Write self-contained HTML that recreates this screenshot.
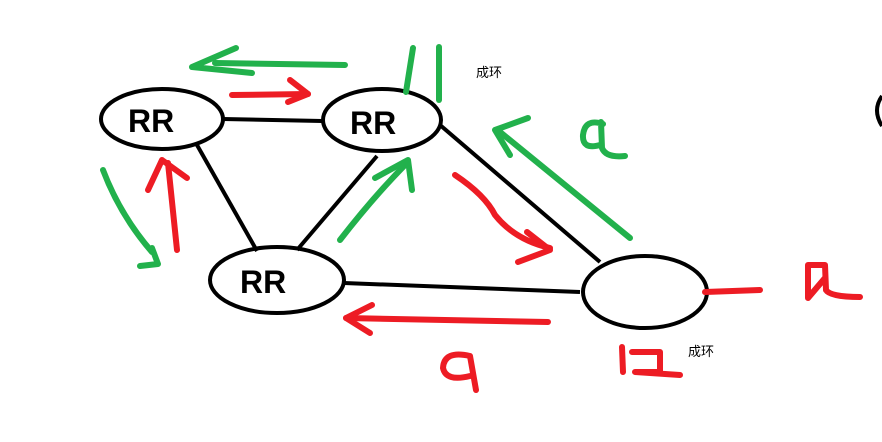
<!DOCTYPE html>
<html><head><meta charset="utf-8"><style>
html,body{margin:0;padding:0;background:#fff;width:882px;height:442px;overflow:hidden}
svg{display:block}
</style></head><body>
<svg width="882" height="442" viewBox="0 0 882 442" xmlns="http://www.w3.org/2000/svg">
<g fill="none" stroke="#000" stroke-width="4">
<ellipse cx="162" cy="119" rx="61" ry="30"/>
<ellipse cx="382" cy="120" rx="59" ry="31"/>
<ellipse cx="277" cy="280" rx="67" ry="33"/>
<ellipse cx="645" cy="292" rx="62" ry="36"/>
<path d="M882 96 Q872 110 882 126" stroke-width="4"/>
<line x1="223" y1="119" x2="322" y2="121"/>
<line x1="197" y1="145" x2="257" y2="251"/>
<line x1="377" y1="156" x2="297" y2="250"/>
<line x1="440" y1="125" x2="600" y2="262"/>
<line x1="344" y1="283" x2="580" y2="292"/>
</g>
<g font-family="Liberation Sans, sans-serif" font-weight="bold" font-size="32" fill="#000">
<text x="128" y="132">RR</text>
<text x="350" y="134">RR</text>
<text x="240" y="293">RR</text>
</g>
<g fill="none" stroke="#22b14c" stroke-width="6" stroke-linecap="round" stroke-linejoin="round">
<path d="M345 65 L215 63"/>
<path d="M236 48 L192 67 L252 73"/>
<path d="M413 48 L406 92"/>
<path d="M439 47 L439 100"/>
<path d="M103 170 Q120 215 152 252"/>
<path d="M140 266 L158 264 L152 248"/>
<path d="M340 240 Q375 195 408 162"/>
<path d="M375 178 L408 160 L412 190"/>
<path d="M630 238 L500 132"/>
<path d="M510 155 L495 130 L528 118"/>
<path d="M603 124 Q585 118 583 135 Q582 150 600 145 M601 122 L602 148 Q606 158 625 156"/>
</g>
<g fill="none" stroke="#ed1c24" stroke-width="6" stroke-linecap="round" stroke-linejoin="round">
<path d="M232 95 L308 94"/>
<path d="M290 80 L308 94 L288 102"/>
<path d="M177 250 L168 163"/>
<path d="M148 190 L162 160 L187 178"/>
<path d="M455 175 Q485 195 495 215 Q515 240 550 248"/>
<path d="M518 262 L550 250 L527 232"/>
<path d="M548 322 L346 318"/>
<path d="M372 305 L346 318 L370 333"/>
<path d="M470 356 Q444 350 443 368 Q446 382 470 376 M470 356 L476 390"/>
<path d="M622 347 L623 372"/>
<path d="M632 352 L660 352 L660 372 L635 372 L680 375"/>
<path d="M705 292 L760 290"/>
<path d="M808 298 L808 265 L825 265 L826 290 M808 298 L825 278 M826 290 Q830 297 860 297"/>
</g>
<g font-family="Liberation Sans, 'Noto Sans CJK SC', sans-serif" font-size="13" fill="#000">
<text x="476" y="77">成环</text>
<text x="688" y="356">成环</text>
</g>
</svg>
</body></html>
